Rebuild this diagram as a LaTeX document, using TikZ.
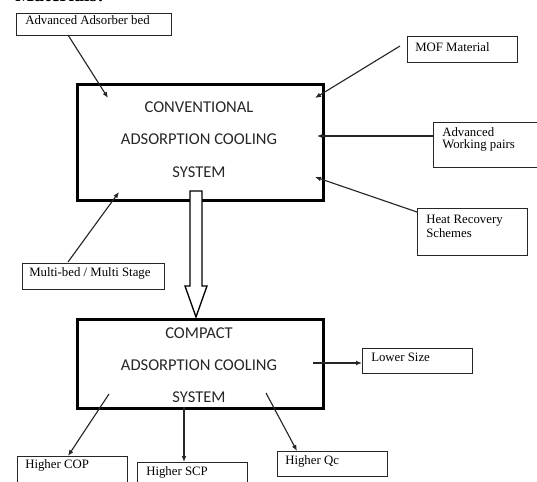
\documentclass[tikz,border=0pt]{standalone}
\usepackage{fontspec}
\setmainfont{Liberation Serif}
\newfontfamily\mainsans{Carlito}
\usetikzlibrary{arrows.meta,calc}
\def\u{0.75pt}
\tikzset{
  bx/.style={draw=black!85, line width=0.9pt, anchor=north west, inner sep=0pt, fill=white},
  bigbx/.style={draw=black, line width=1.9pt, anchor=north west, inner sep=0pt},
  lbl/.style={anchor=base west, inner sep=0pt, font=\fontsize{9.6pt}{11pt}\selectfont, align=left},
  big/.style={inner sep=0pt, font=\mainsans\fontsize{12.4pt}{14pt}\selectfont, text=black!85},
  arr/.style={draw=black!85, line width=0.85pt, -{Latex[length=4.5pt,width=3.6pt]}},
}
\begin{document}
\begin{tikzpicture}[x=0.75pt,y=-0.75pt]
\useasboundingbox (0,0) rectangle (537,482);
\clip (0,0) rectangle (537,482);
% partially visible heading
\node[anchor=base west, inner sep=0pt, font=\bfseries\fontsize{15pt}{18pt}\selectfont] (head) at (15,1.5) {Materials:};
% main boxes
\node[bigbx, minimum width=246*\u, minimum height=116*\u] (conv) at (76,83) {};
\node[big] (c1) at (199,107) {CONVENTIONAL};
\node[big] (c2) at (199,139) {ADSORPTION COOLING};
\node[big] (c3) at (199,172) {SYSTEM};
\node[bigbx, minimum width=246*\u, minimum height=89*\u] (comp) at (76,318) {};
\node[big] (d1) at (199,333) {COMPACT};
\node[big] (d2) at (199,365) {ADSORPTION COOLING};
\node[big] (d3) at (199,397) {SYSTEM};
% small boxes
\node[bx, minimum width=155*\u, minimum height=22*\u] (adv) at (16,13) {};
\node[lbl] (advt) at (25,24) {Advanced Adsorber bed};
\node[bx, minimum width=110*\u, minimum height=26*\u] (mof) at (407,36) {};
\node[lbl] (moft) at (415,51) {MOF Material};
\node[bx, minimum width=104*\u, minimum height=45*\u] (awp) at (433,122) {};
\node[lbl] (awpt1) at (442,136) {Advanced};
\node[lbl] (awpt2) at (442,148) {Working pairs};
\node[bx, minimum width=110*\u, minimum height=47*\u] (hrs) at (417,208) {};
\node[lbl] (hrst1) at (426,223) {Heat Recovery};
\node[lbl] (hrst2) at (426,237) {Schemes};
\node[bx, minimum width=142*\u, minimum height=26*\u] (mbs) at (22,263) {};
\node[lbl] (mbst) at (29,276) {Multi-bed / Multi Stage};
\node[bx, minimum width=110*\u, minimum height=25*\u] (low) at (362,348) {};
\node[lbl] (lowt) at (371,361) {Lower Size};
\node[bx, minimum width=110*\u, minimum height=40*\u] (cop) at (17,456) {};
\node[lbl] (copt) at (25,468) {Higher COP};
\node[bx, minimum width=110*\u, minimum height=40*\u] (scp) at (137,462) {};
\node[lbl] (scpt) at (146,475) {Higher SCP};
\node[bx, minimum width=110*\u, minimum height=25*\u] (qc) at (277,451) {};
\node[lbl] (qct) at (285,464) {Higher Qc};
% connector end points
\coordinate (p1s) at (68,35);   \coordinate (p1e) at (108,98);
\coordinate (p2s) at (400,46);  \coordinate (p2e) at (315,98);
\coordinate (p3s) at (433,136); \coordinate (p3e) at (317,136);
\coordinate (p4s) at (417,212); \coordinate (p4e) at (315,177);
\coordinate (p5s) at (68,262);  \coordinate (p5e) at (119,192);
\coordinate (p6s) at (313,363); \coordinate (p6e) at (362,363);
\coordinate (p7s) at (109,394); \coordinate (p7e) at (68,456);
\coordinate (p8s) at (184,407); \coordinate (p8e) at (184,462);
\coordinate (p9s) at (266,393); \coordinate (p9e) at (297,451);
\draw[arr] (p1s) -- (p1e);
\draw[arr] (p2s) -- (p2e);
\draw[arr] (p3s) -- (p3e);
\draw[arr] (p4s) -- (p4e);
\draw[arr] (p5s) -- (p5e);
\draw[arr] (p6s) -- (p6e);
\draw[arr] (p7s) -- (p7e);
\draw[arr] (p8s) -- (p8e);
\draw[arr] (p9s) -- (p9e);
% hollow block arrow
\draw[line width=1pt, fill=white, line join=miter] (190,191) -- (190,286) -- (185,286) -- (196,317) -- (207,286) -- (202,286) -- (202,191) -- cycle;
\end{tikzpicture}
\end{document}
